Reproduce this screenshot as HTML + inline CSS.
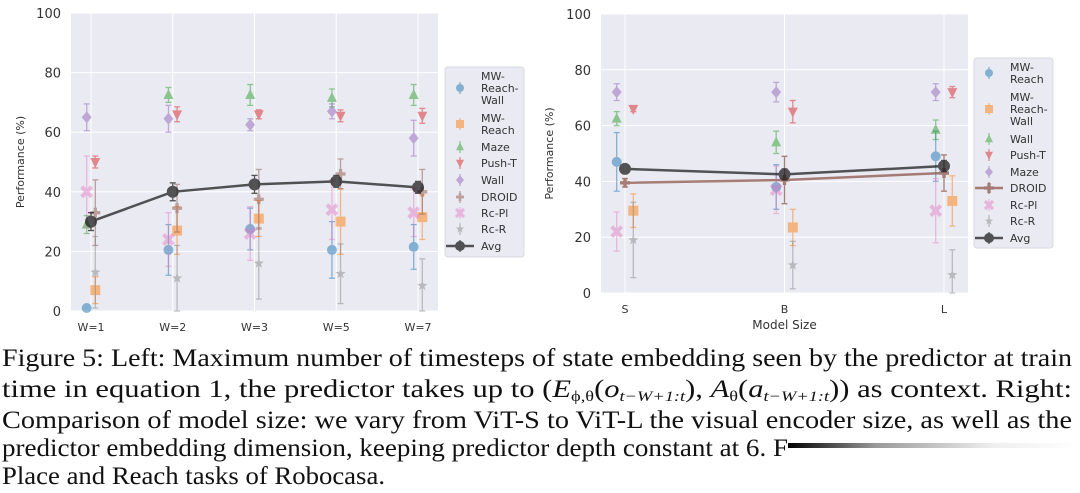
<!DOCTYPE html>
<html><head><meta charset="utf-8"><style>
body{margin:0;background:#fff;width:1080px;height:493px;overflow:hidden}
svg{display:block}
</style></head><body>
<svg id="svg" width="1080" height="493" xmlns="http://www.w3.org/2000/svg" font-family="DejaVu Sans, Liberation Sans, sans-serif">
<defs><linearGradient id="fade" x1="0" x2="1"><stop offset="0" stop-color="#000"/><stop offset="0.3" stop-color="#999"/><stop offset="0.7" stop-color="#eee"/><stop offset="1" stop-color="#fff"/></linearGradient></defs>
<g id="left"></g>
<g id="right"></g>
<g font-family="Liberation Serif, serif" font-size="25" fill="#111">
<text x="2" y="366" textLength="1070" lengthAdjust="spacingAndGlyphs">Figure 5: Left: Maximum number of timesteps of state embedding seen by the predictor at train</text>
<text x="2" y="397" textLength="1070" lengthAdjust="spacingAndGlyphs">time in equation 1, the predictor takes up to (<tspan font-style="italic">E</tspan><tspan font-size="15" dy="4">ϕ,θ</tspan><tspan dy="-4">(</tspan><tspan font-style="italic">o</tspan><tspan font-size="15" dy="4" font-style="italic">t−W+1:t</tspan><tspan dy="-4">), </tspan><tspan font-style="italic">A</tspan><tspan font-size="15" dy="4">θ</tspan><tspan dy="-4">(</tspan><tspan font-style="italic">a</tspan><tspan font-size="15" dy="4" font-style="italic">t−W+1:t</tspan><tspan dy="-4">)) as context.  Right:</tspan></text>
<text x="2" y="428" textLength="1070" lengthAdjust="spacingAndGlyphs">Comparison of model size: we vary from ViT-S to ViT-L the visual encoder size, as well as the</text>
<text x="2" y="456" textLength="786" lengthAdjust="spacingAndGlyphs">predictor embedding dimension, keeping predictor depth constant at 6. F</text>
<rect x="788" y="443" width="292" height="5" fill="url(#fade)"/>
<text x="2" y="484" textLength="383" lengthAdjust="spacingAndGlyphs">Place and Reach tasks of Robocasa.</text>
</g>
</svg>
<script>
// ---- Left chart data ----
const leftCats = ["W=1","W=2","W=3","W=5","W=7"];
const leftNames = ["MW-Reach-Wall","MW-Reach","Maze","Push-T","Wall","DROID","Rc-Pl","Rc-R"];
const lMWRW = [1,20.5,27.5,20.5,21.5];
const lMWRWerr = [1,8.5,7,9.5,7.5];
const lMWR = [7,27,31,30,31.5];
const lMWRerr = [4.5,8,6,11,7.5];
const lMaze = [29,72.5,72.5,71.5,72.5];
const lMazeErr = [3,2.5,3.5,3,3.5];
const lPush = [50,66,66,65.5,65.5];
const lPushErr = [2,2.5,1.5,2,2.5];
const lWall = [65,64.5,62.5,67,58];
const lWallErr = [4.5,4.5,2,2.5,6];
const lDroid = [33,34.5,37.5,46,40];
const lDroidErr = [11,8,10,5,7.5];
const lRcPl = [40,24,26,34,33];
const lRcPlErr = [12,9,9,10,8];
const lRcR = [13,11,16,12.5,8.5];
const lRcRErr = [12,11,12,10,9];
const lAvg = [30,40,42.5,43.5,41.5];
const lAvgErr = [3,3,3,2,2];
// ---- Right chart data ----
const rightCats = ["S","B","L"];
const rightNames = ["MW-Reach","MW-Reach-Wall","Wall","Push-T","Maze","DROID","Rc-Pl","Rc-R"];
const rMWR = [47,38,49];
const rMWRerr = [10.5,8,9];
const rMWRW = [29.5,23.5,33];
const rMWRWerr = [6,6.5,9];
const rWall = [62.5,54,58.5];
const rWallErr = [2.5,4,3.5];
const rPush = [66,65,72];
const rPushErr = [1,4,2];
const rMaze = [72,72,72];
const rMazeErr = [3,3.5,3];
const rDroid = [39.5,40.5,43];
const rDroidErr = [1.5,8.5,6.5];
const rRcPl = [22,37,29.5];
const rRcPlErr = [7,8.5,11.5];
const rRcR = [19,10,6.5];
const rRcRErr = [13.5,8.5,9];
const rAvg = [44.5,42.5,45.5];
const rAvgErr = [1,2,2];

const NS="http://www.w3.org/2000/svg";
function mk(p,tag,at){const e=document.createElementNS(NS,tag);for(const k in at)e.setAttribute(k,at[k]);p.appendChild(e);return e;}
const COL={blue:"#1f77b4",orange:"#ff7f0e",green:"#2ca02c",red:"#d62728",purple:"#9467bd",brown:"#8c564b",pink:"#e377c2",gray:"#7f7f7f",black:"#111"};

function marker(g,shape,x,y,c,s){
  let e;
  if(shape==="o") e=mk(g,"circle",{cx:x,cy:y,r:s});
  else if(shape==="s") e=mk(g,"rect",{x:x-s,y:y-s,width:2*s,height:2*s});
  else if(shape==="^") e=mk(g,"polygon",{points:`${x},${y-s*1.2} ${x-s},${y+s*0.8} ${x+s},${y+s*0.8}`});
  else if(shape==="v") e=mk(g,"polygon",{points:`${x},${y+s*1.2} ${x-s},${y-s*0.8} ${x+s},${y-s*0.8}`});
  else if(shape==="D") e=mk(g,"polygon",{points:`${x},${y-s*1.2} ${x-s},${y} ${x},${y+s*1.2} ${x+s},${y}`});
  else if(shape==="P") e=mk(g,"path",{d:`M${x-s/3},${y-s}h${2*s/3}v${2*s/3}h${2*s/3}v${2*s/3}h${-2*s/3}v${2*s/3}h${-2*s/3}v${-2*s/3}h${-2*s/3}v${-2*s/3}h${2*s/3}z`});
  else if(shape==="X") e=mk(g,"path",{d:`M${x-s},${y-s}L${x+s},${y+s}M${x+s},${y-s}L${x-s},${y+s}`,stroke:c,"stroke-width":s*0.8,fill:"none"});
  else if(shape==="*"){let pts=[];for(let i=0;i<10;i++){const r=i%2?s*0.45:s*1.1;const a=-Math.PI/2+i*Math.PI/5;pts.push((x+r*Math.cos(a)).toFixed(1)+","+(y+r*Math.sin(a)).toFixed(1));}e=mk(g,"polygon",{points:pts.join(" ")});}
  if(shape!=="X") e.setAttribute("fill",c);
  return e;
}

function chart(g,cfg){
  const {x0,x1,y0,y1,cats,catX,series,xlabel}=cfg;
  const ys=v=>y1-(v/100)*(y1-y0);
  mk(g,"rect",{x:x0,y:y0,width:x1-x0,height:y1-y0,fill:"#eaeaf2"});
  for(let t=0;t<=100;t+=20){
    const ln=mk(g,"line",{x1:x0,x2:x1,y1:ys(t),y2:ys(t),stroke:"#fff","stroke-width":1});
    
    
    const tx=mk(g,"text",{x:x0-10,y:ys(t)+5,"text-anchor":"end","font-size":13,fill:"#333"});
    tx.textContent=t;
    
    
  }
  cats.forEach((c,i)=>{
    const ln=mk(g,"line",{x1:catX(i),x2:catX(i),y1:y0,y2:y1,stroke:"#fff","stroke-width":1});
    
    
    const tx=mk(g,"text",{x:catX(i),y:y1+20,"text-anchor":"middle","font-size":11,fill:"#333"});
    tx.textContent=c;
    
    
  });
  const yl=mk(g,"text",{transform:`translate(${cfg.ylx},${(y0+y1)/2}) rotate(-90)`,"text-anchor":"middle","font-size":11,fill:"#333"});
  yl.textContent="Performance (%)";
  
  
  if(xlabel){const xl=mk(g,"text",{x:(x0+x1)/2,y:y1+36,"text-anchor":"middle","font-size":12,fill:"#333"});xl.textContent=xlabel;
    
    }
  series.forEach(s=>{
    const sg=mk(g,"g",{opacity:s.op});
    
    
    const xs=i=>catX(i)+s.off;
    if(s.line){
      const pts=s.vals.map((v,i)=>xs(i)+","+ys(v)).join(" ");
      mk(sg,"polyline",{points:pts,fill:"none",stroke:s.c,"stroke-width":2.5});
    }
    s.vals.forEach((v,i)=>{
      const x=xs(i),e=s.err[i];
      mk(sg,"line",{x1:x,x2:x,y1:ys(Math.max(0,v-e)),y2:ys(Math.min(100,v+e)),stroke:s.c,"stroke-width":1.3});
      mk(sg,"line",{x1:x-3,x2:x+3,y1:ys(Math.max(0,v-e)),y2:ys(Math.max(0,v-e)),stroke:s.c,"stroke-width":1.3});
      mk(sg,"line",{x1:x-3,x2:x+3,y1:ys(Math.min(100,v+e)),y2:ys(Math.min(100,v+e)),stroke:s.c,"stroke-width":1.3});
      const m=marker(sg,s.m,x,ys(v),s.c,s.sz||5);
      
      
    });
  });
  const L=cfg.legend;
  const lg=mk(g,"g",{});
  
  
  mk(lg,"rect",{x:L.x,y:L.y,width:L.w,height:L.h,fill:"#eaeaf2",stroke:"#d8d8e0",rx:3});
  L.entries.forEach(en=>{
    const s=series[en.i];
    const eg=mk(lg,"g",{opacity:s.op});
    
    
    const my=(en.lines.length-1)*6+en.y;
    if(s.line) mk(eg,"line",{x1:L.mx-14,x2:L.mx+14,y1:my,y2:my,stroke:s.c,"stroke-width":2.5});
    mk(eg,"line",{x1:L.mx,x2:L.mx,y1:my-6,y2:my+6,stroke:s.c,"stroke-width":1.3});
    marker(eg,s.m,L.mx,my,s.c,s.line?5:4);
    en.lines.forEach((t,k)=>{const tx=mk(lg,"text",{x:L.tx,y:en.y+4+k*12,"font-size":11,fill:"#333"});tx.textContent=t;});
  });
}

chart(document.getElementById("left"),{
  x0:71,x1:438,y0:13,y1:311,ylx:24,cats:leftCats,
  catX:i=>91+i*(418-91)/(leftCats.length-1),
  series:[
    {name:leftNames[0],vals:lMWRW,err:lMWRWerr,c:COL.blue,m:"o",off:-4.3,op:0.5},
    {name:leftNames[1],vals:lMWR,err:lMWRerr,c:COL.orange,m:"s",off:4.3,op:0.5},
    {name:leftNames[2],vals:lMaze,err:lMazeErr,c:COL.green,m:"^",off:-4.3,op:0.5},
    {name:leftNames[3],vals:lPush,err:lPushErr,c:COL.red,m:"v",off:4.3,op:0.5},
    {name:leftNames[4],vals:lWall,err:lWallErr,c:COL.purple,m:"D",off:-4.3,op:0.5},
    {name:leftNames[5],vals:lDroid,err:lDroidErr,c:COL.brown,m:"P",off:4.3,op:0.5},
    {name:leftNames[6],vals:lRcPl,err:lRcPlErr,c:COL.pink,m:"X",off:-4.3,op:0.45},
    {name:leftNames[7],vals:lRcR,err:lRcRErr,c:COL.gray,m:"*",off:4.3,op:0.45},
    {name:"Avg",vals:lAvg,err:lAvgErr,c:COL.black,m:"o",off:0,op:0.7,line:true,sz:6}
  ],
  legend:{x:445,y:67,w:79,h:190,mx:460,tx:481,entries:[
    {i:0,y:76,lines:["MW-","Reach-","Wall"]},{i:1,y:118,lines:["MW-","Reach"]},
    {i:2,y:147,lines:["Maze"]},{i:3,y:163,lines:["Push-T"]},{i:4,y:180,lines:["Wall"]},
    {i:5,y:197,lines:["DROID"]},{i:6,y:213,lines:["Rc-Pl"]},{i:7,y:229,lines:["Rc-R"]},{i:8,y:246,lines:["Avg"]}]}
});
chart(document.getElementById("right"),{
  x0:601,x1:968,y0:14,y1:293,ylx:553,cats:rightCats,xlabel:"Model Size",
  catX:i=>625+i*(944-625)/(rightCats.length-1),
  series:[
    {name:rightNames[0],vals:rMWR,err:rMWRerr,c:COL.blue,m:"o",off:-8.3,op:0.5},
    {name:rightNames[1],vals:rMWRW,err:rMWRWerr,c:COL.orange,m:"s",off:8.3,op:0.5},
    {name:rightNames[2],vals:rWall,err:rWallErr,c:COL.green,m:"^",off:-8.3,op:0.5},
    {name:rightNames[3],vals:rPush,err:rPushErr,c:COL.red,m:"v",off:8.3,op:0.5},
    {name:rightNames[4],vals:rMaze,err:rMazeErr,c:COL.purple,m:"D",off:-8.3,op:0.5},
    {name:rightNames[5],vals:rDroid,err:rDroidErr,c:COL.brown,m:"P",off:0,op:0.75,line:true},
    {name:rightNames[6],vals:rRcPl,err:rRcPlErr,c:COL.pink,m:"X",off:-8.3,op:0.45},
    {name:rightNames[7],vals:rRcR,err:rRcRErr,c:COL.gray,m:"*",off:8.3,op:0.45},
    {name:"Avg",vals:rAvg,err:rAvgErr,c:COL.black,m:"o",off:0,op:0.7,line:true,sz:6}
  ],
  legend:{x:974,y:58,w:79,h:190,mx:989,tx:1010,entries:[
    {i:0,y:67,lines:["MW-","Reach"]},{i:1,y:97,lines:["MW-","Reach-","Wall"]},
    {i:2,y:139,lines:["Wall"]},{i:3,y:155,lines:["Push-T"]},{i:4,y:172,lines:["Maze"]},
    {i:5,y:188,lines:["DROID"]},{i:6,y:205,lines:["Rc-Pl"]},{i:7,y:221,lines:["Rc-R"]},{i:8,y:238,lines:["Avg"]}]}
});
</script>
</body></html>
